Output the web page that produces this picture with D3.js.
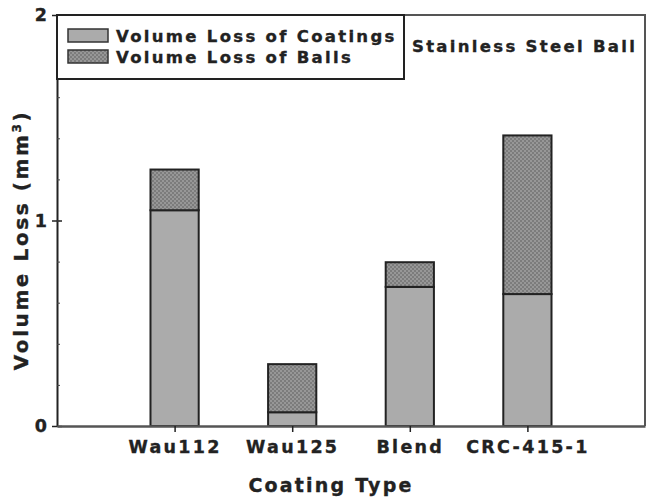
<!DOCTYPE html>
<html>
<meta charset="utf-8">
<style>
body { margin: 0; background: #fff; }
svg text { font-family: "DejaVu Sans", sans-serif; font-weight: bold; fill: #222; stroke: #222; stroke-width: 0.35px; }
.tick-label { font-size: 17.5px; letter-spacing: 2.3px; }
.legend-text { font-size: 16.5px; letter-spacing: 2.3px; }
.axis-title { font-size: 19px; letter-spacing: 2.2px; }
</style>
<body>
<script src="https://cdn.jsdelivr.net/npm/d3@7"></script>
<script>

var categories = ["Wau112", "Wau125", "Blend", "CRC-415-1"];
var coatingLoss = [1.05, 0.067, 0.677, 0.642];
var ballLoss = [0.198, 0.234, 0.12, 0.772];
var yTicks = [0, 1, 2];
var seriesNames = ["Volume Loss of Coatings", "Volume Loss of Balls"];

var svg = d3.select("body").append("svg")
    .attr("width", 646)
    .attr("height", 497);

var defs = svg.append("defs");
var pat = defs.append("pattern")
    .attr("id", "balls")
    .attr("width", 4).attr("height", 4)
    .attr("patternUnits", "userSpaceOnUse");
pat.append("rect").attr("width", 4).attr("height", 4).attr("fill", "#979797");
pat.append("rect").attr("width", 2).attr("height", 2).attr("fill", "#7c7c7c");
pat.append("rect").attr("x", 2).attr("y", 2).attr("width", 2).attr("height", 2).attr("fill", "#7c7c7c");

var mLeft = 57, mRight = 645, mTop = 15, mBottom = 426;

var x = d3.scaleLinear().domain([0, 5]).range([mLeft, mRight]);
var y = d3.scaleLinear().domain([0, 2]).range([mBottom, mTop]);
var barW = x(0.41) - x(0);

// bars
var bars = svg.append("g");
bars.selectAll(".coat")
    .data(categories)
    .enter().append("rect")
    .attr("x", function(d, i) { return x(i + 1) - barW / 2; })
    .attr("y", function(d, i) { return y(coatingLoss[i]); })
    .attr("width", barW)
    .attr("height", function(d, i) { return y(0) - y(coatingLoss[i]); })
    .attr("fill", "#ababab")
    .attr("stroke", "#222")
    .attr("stroke-width", 2);

bars.selectAll(".ball")
    .data(categories)
    .enter().append("rect")
    .attr("x", function(d, i) { return x(i + 1) - barW / 2; })
    .attr("y", function(d, i) { return y(coatingLoss[i] + ballLoss[i]); })
    .attr("width", barW)
    .attr("height", function(d, i) { return y(coatingLoss[i]) - y(coatingLoss[i] + ballLoss[i]); })
    .attr("fill", "url(#balls)")
    .attr("stroke", "#222")
    .attr("stroke-width", 2);

// frame top and right
svg.append("path")
    .attr("d", "M" + mLeft + "," + mTop + "H" + mRight + "V" + mBottom)
    .attr("fill", "none")
    .attr("stroke", "#555")
    .attr("stroke-width", 2);

// y axis
var yAxis = svg.append("g")
    .attr("transform", "translate(" + mLeft + ",0)")
    .call(d3.axisLeft(y).tickValues(yTicks).tickFormat(d3.format("d")).tickSize(5).tickSizeOuter(0).tickPadding(5));
yAxis.select(".domain").attr("stroke", "#222").attr("stroke-width", 2);
yAxis.selectAll(".tick line").attr("stroke", "#222").attr("stroke-width", 1.5).attr("x2", 5).attr("x1", -5);
yAxis.selectAll(".tick text").attr("class", "tick-label").attr("font-size", null).attr("font-family", null)
    .style("letter-spacing", "0px");

var minor = svg.append("g")
    .attr("transform", "translate(" + mLeft + ",0)")
    .call(d3.axisRight(y).tickValues(d3.range(0, 2.01, 0.2)).tickFormat("").tickSize(3));
minor.select(".domain").remove();
minor.selectAll(".tick line").attr("stroke", "#444");

// x axis
var xAxis = svg.append("g")
    .attr("transform", "translate(0," + mBottom + ")")
    .call(d3.axisBottom(x).tickValues([1, 2, 3, 4])
        .tickFormat(function(d) { return categories[d - 1]; })
        .tickSize(6).tickSizeOuter(0).tickPadding(9));
xAxis.select(".domain").attr("stroke", "#555").attr("stroke-width", 2.5);
xAxis.selectAll(".tick line").attr("stroke", "#222").attr("stroke-width", 1.5);
xAxis.selectAll(".tick text").attr("class", "tick-label").attr("font-size", null).attr("font-family", null);

// axis titles
svg.append("text")
    .attr("class", "axis-title")
    .attr("text-anchor", "middle")
    .attr("transform", "translate(28,240) rotate(-90)")
    .style("font-size", "20px")
    .style("letter-spacing", "2.6px")
    .html("Volume Loss (mm<tspan dy='-7' font-size='12'>3</tspan><tspan dy='7'>)</tspan>");

svg.append("text")
    .attr("class", "axis-title")
    .attr("text-anchor", "middle")
    .attr("x", 331)
    .attr("y", 492)
    .text("Coating Type");

// legend
svg.append("rect")
    .attr("x", mLeft).attr("y", mTop)
    .attr("width", 404 - mLeft).attr("height", 79 - mTop)
    .attr("fill", "#fff")
    .attr("stroke", "#222")
    .attr("stroke-width", 2);

var legend = svg.append("g").selectAll("g")
    .data(seriesNames)
    .enter().append("g")
    .attr("transform", function(d, i) { return "translate(68," + (29 + i * 21) + ")"; });
legend.append("rect")
    .attr("width", 40).attr("height", 13)
    .attr("fill", function(d, i) { return i == 0 ? "#ababab" : "url(#balls)"; })
    .attr("stroke", "#333")
    .attr("stroke-width", 1.5);
legend.append("text")
    .attr("class", "legend-text")
    .attr("x", 48)
    .attr("y", 13)
    .text(function(d) { return d; });

svg.append("text")
    .attr("class", "legend-text")
    .attr("x", 412)
    .attr("y", 52)
    .text("Stainless Steel Ball");

</script>
</body>
</html>
